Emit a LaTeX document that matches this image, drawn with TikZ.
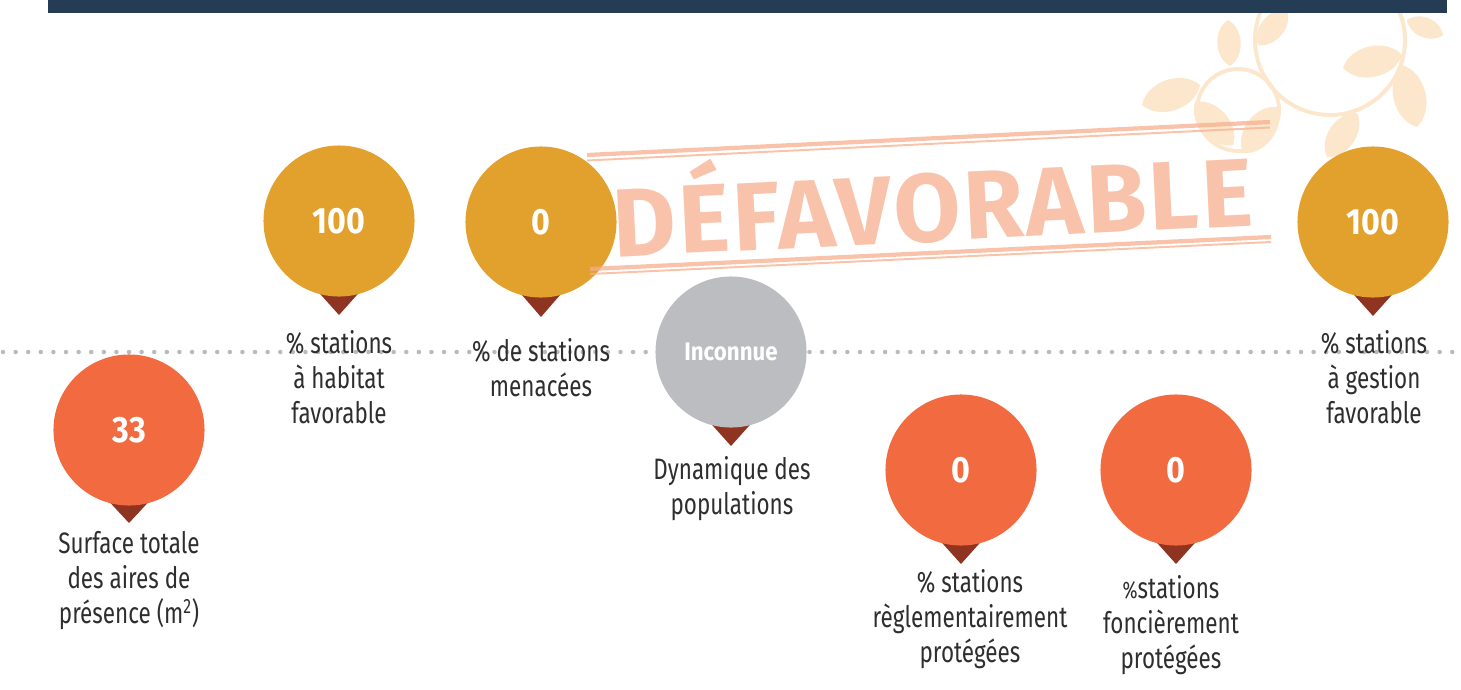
\documentclass[tikz,border=0pt]{standalone}
\usepackage{fontspec}
\setmainfont{Fira Sans}[FakeStretch=0.76]
\newfontfamily\stampfont{Fira Sans}[LetterSpace=3]
\newfontfamily\numfont{Fira Sans}[FakeStretch=0.88]
\usepackage{tikz}
\usetikzlibrary{positioning}
\definecolor{navy}{HTML}{243D55}
\definecolor{gold}{HTML}{E2A02C}
\definecolor{coral}{HTML}{F26A3F}
\definecolor{ash}{HTML}{BCBDC0}
\definecolor{rust}{HTML}{8E3420}
\definecolor{stampc}{HTML}{F6AF8E}
\definecolor{leafc}{HTML}{FCE7CC}
\definecolor{dotc}{HTML}{B8BABD}
\definecolor{ink}{HTML}{2E2E2E}

\begin{document}
\begin{tikzpicture}[x=0.711pt,y=-0.711pt,
marker/.style ={shape=circle, inner sep=0pt, minimum size=107.4pt, text=white, font=\numfont\bfseries\fontsize{26}{26}\selectfont},
goldm/.style ={marker, fill=gold},
coralm/.style ={marker, fill=coral},
ashm/.style ={marker, fill=ash, font=\numfont\bfseries\fontsize{18}{18}\selectfont},
pin/.style ={fill=rust},
caption/.style ={anchor=north, inner sep=0pt, align=center, text=ink, font=\fontsize{21}{25}\selectfont},
leafy/.style ={fill=leafc},
stampline/.style ={draw=stampc, draw opacity=0.75}]
\useasboundingbox (0,0) rectangle (1461,689);
% vine in the corner
\begin{scope}
\clip (1100,13) rectangle (1444,220);
\draw[leafc, line width=2.8pt] (1330,40) circle (75);
\draw[leafc, line width=2.8pt] (1238,110) circle (41);
\fill[leafy] (1230,66) to[bend left=60] (1228,20) to[bend left=60] (1230,66);
\fill[leafy] (1200,85) to[bend left=60] (1142,105) to[bend left=60] (1200,85);
\fill[leafy] (1195,102) to[bend left=60] (1233,145) to[bend left=60] (1195,102);
\fill[leafy] (1277,107) to[bend left=60] (1243,153) to[bend left=60] (1277,107);
\fill[leafy] (1258,45) to[bend left=60] (1287,10) to[bend left=60] (1258,45);
\fill[leafy] (1402,55) to[bend left=60] (1343,68) to[bend left=60] (1402,55);
\fill[leafy] (1402,65) to[bend left=60] (1417,127) to[bend left=60] (1402,65);
\fill[leafy] (1357,113) to[bend left=60] (1327,157) to[bend left=60] (1357,113);
\fill[leafy] (1407,20) to[bend left=60] (1443,35) to[bend left=60] (1407,20);
\end{scope}
\fill[navy] (48,0) rectangle (1447,13);
\draw[dotc, line width=3.2pt, line cap=round, dash pattern=on 0pt off 8.96pt] (3,352) -- (1461,352);

\fill[pin] (103,495) -- (155,495) -- (129,523) -- cycle;
\node[coralm] (surf) at (129,430) {33};
\fill[pin] (313,286) -- (365,286) -- (339,315) -- cycle;
\node[goldm] (habitat) at (339,221) {100};
\fill[pin] (515,287) -- (567,287) -- (541,317) -- cycle;
\node[goldm] (menace) at (541,222) {0};
\fill[pin] (705,417) -- (757,417) -- (731,446) -- cycle;
\node[ashm] (dyn) at (731,352) {Inconnue};
\fill[pin] (935,535) -- (987,535) -- (961,564) -- cycle;
\node[coralm] (regl) at (961,470) {0};
\fill[pin] (1150,535) -- (1202,535) -- (1176,564) -- cycle;
\node[coralm] (fonc) at (1176,470) {0};
\fill[pin] (1347,287) -- (1399,287) -- (1373,316) -- cycle;
\node[goldm] (gestion) at (1373,222) {100};

\node[caption] (surftxt) at (129,531) {Surface totale\\des aires de\\présence (m\textsuperscript{2})};
\node[caption] (habitattxt) at (339,330) {\% stations\\à habitat\\favorable};
\node[caption] (menacetxt) at (541,338) {\% de stations\\menacées};
\node[caption] (dyntxt) at (732,456) {Dynamique des\\populations};
\node[caption] (regltxt) at (970,569) {\% stations\\règlementairement\\protégées};
\node[caption] (fonctxt) at (1171,575) {{\fontsize{17}{17}\selectfont\%}stations\\foncièrement\\protégées};
\node[caption] (gestiontxt) at (1374,330) {\% stations\\à gestion\\favorable};

% stamp
\draw[stampline, line width=3pt] (587,155) -- (1270,122);
\draw[stampline, line width=1.4pt] (587,160.5) -- (1270,127.5);
\draw[stampline, line width=3pt] (590,269) -- (1271,237);
\draw[stampline, line width=1.4pt] (590,274) -- (1271,242);
\node[rotate=2.8, text=stampc, text opacity=0.75, inner sep=0pt, font=\stampfont\bfseries\fontsize{69}{69}\selectfont] (stamp) at (932,196) {DÉFAVORABLE};
\end{tikzpicture}
\end{document}
